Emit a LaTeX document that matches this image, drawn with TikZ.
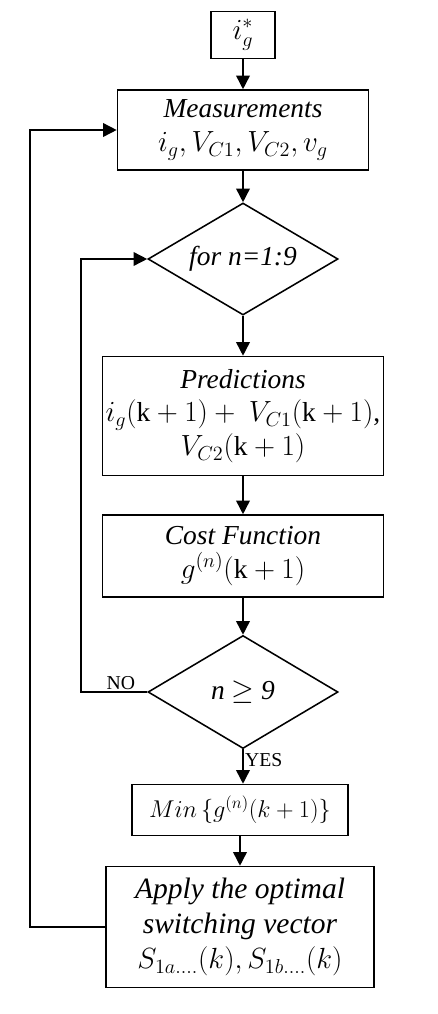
\documentclass[tikz,border=0pt]{standalone}
\usepackage{amsmath,amssymb}
\usepackage{fontspec}
\setmainfont{Liberation Serif}
\usetikzlibrary{arrows.meta,shapes.geometric}
\tikzset{
  ar/.style={-{Triangle[length=3.4mm,width=3.4mm]},line width=1.1pt},
  box/.style={draw,line width=1.1pt,align=center,inner sep=1pt,font=\fontsize{19.5}{24}\selectfont},
  dec/.style={diamond,draw,line width=1.1pt,aspect=1.7,inner sep=0pt,font=\fontsize{19.5}{24}\selectfont},
  lbl/.style={font=\fontsize{14}{16}\selectfont,inner sep=1pt}
}
\begin{document}
\begin{tikzpicture}[x=0.025cm,y=-0.025cm]
\useasboundingbox (0,0) rectangle (438,1014);
\node[box,minimum width=1.6cm,minimum height=1.175cm] (ref) at (243,35) {$i_g^{*}$};
\node[box,minimum width=6.275cm,minimum height=2cm] (meas) at (243,130) {\textit{Measurements}\\$i_g,V_{C1},V_{C2},v_g$};
\node[dec,minimum width=4.75cm,minimum height=2.8cm] (loop) at (243,259) {\textit{for n=1:9}};
\node[box,minimum width=7.025cm,minimum height=2.975cm] (pred) at (243,416) {\textit{Predictions}\\$i_g(\mathrm{k}+1)+\ V_{C1}(\mathrm{k}+1)$,\\$V_{C2}(\mathrm{k}+1)$};
\node[box,minimum width=7.025cm,minimum height=2.05cm] (cost) at (243,556) {\textit{Cost Function}\\$g^{(n)}(\mathrm{k}+1)$};
\node[dec,minimum width=4.75cm,minimum height=2.825cm] (test) at (243,692) {\textit{n} $\geq$ \textit{9}};
\node[box,minimum width=5.4cm,minimum height=1.275cm,font=\fontsize{17}{20}\selectfont] (mini) at (240,810) {$Min\,\{g^{(n)}(k+1)\}$};
\node[box,minimum width=6.7cm,minimum height=3.025cm,font=\fontsize{21}{25}\selectfont] (apply) at (240,927) {\textit{Apply the optimal}\\\textit{switching vector}\\$S_{1a....}(k),S_{1b....}(k)$};
\draw[ar] (ref) -- (meas);
\draw[ar] (meas) -- (loop);
\draw[ar] (loop) -- (pred);
\draw[ar] (pred) -- (cost);
\draw[ar] (cost) -- (test);
\draw[ar] (test.south) -- node[lbl,right,pos=0.3]{YES} (mini.north -| test.south);
\draw[ar] (mini) -- (apply);
\draw[ar] (test.west) -- node[lbl,above,pos=0.4]{NO} ++(-66,0) |- (loop.west);
\draw[ar] (apply.west) -- ++(-75,0) |- (meas.west);
\end{tikzpicture}
\end{document}
